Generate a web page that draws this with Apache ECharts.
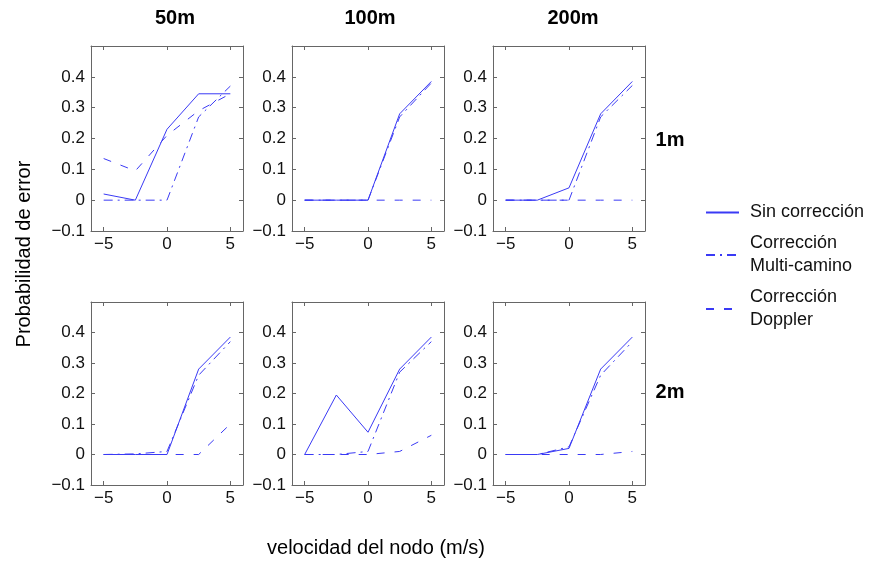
<!DOCTYPE html>
<html>
<head>
<meta charset="utf-8">
<script src="https://cdn.jsdelivr.net/npm/echarts@6/dist/echarts.min.js"></script>
<style>
  html, body { margin: 0; padding: 0; background: #fff; }
  #chart { width: 874px; height: 561px; }
</style>
</head>
<body>
<div id="chart"></div>
<script>
// Node speed (m/s) on the x axis of every panel
const velocidades = [-5, -2.5, 0, 2.5, 5];

// Column headings (distance) and row headings (antenna separation)
const distancias = ['50m', '100m', '200m'];
const separaciones = ['1m', '2m'];

// Tick labels
const xTicks = [-5, 0, 5];
const yTicks = [-0.1, 0, 0.1, 0.2, 0.3, 0.4];

// Error probability, one array per distance column (50m, 100m, 200m)
const sinCorreccion1m = [
  [0.02, 0.0, 0.23, 0.345, 0.345],
  [0.0, 0.0, 0.0, 0.28, 0.385],
  [0.0, 0.0, 0.04, 0.28, 0.385]
];
const multiCamino1m = [
  [0.0, 0.0, 0.0, 0.27, 0.37],
  [0.0, 0.0, 0.0, 0.27, 0.38],
  [0.0, 0.0, 0.0, 0.27, 0.372]
];
const doppler1m = [
  [0.135, 0.095, 0.21, 0.29, 0.345],
  [0.0, 0.0, 0.0, 0.0, 0.0],
  [0.0, 0.0, 0.0, 0.0, 0.0]
];
const sinCorreccion2m = [
  [0.0, 0.0, 0.0, 0.28, 0.385],
  [0.0, 0.195, 0.073, 0.28, 0.385],
  [0.0, 0.0, 0.02, 0.28, 0.385]
];
const multiCamino2m = [
  [0.0, 0.002, 0.01, 0.26, 0.37],
  [0.0, 0.0, 0.01, 0.27, 0.37],
  [0.0, 0.0, 0.025, 0.26, 0.37]
];
const doppler2m = [
  [0.0, 0.0, 0.0, 0.0, 0.1],
  [0.0, 0.0, 0.0, 0.01, 0.063],
  [0.0, 0.0, 0.0, 0.0, 0.01]
];

const nombres = ['Sin corrección', 'Corrección\nMulti-camino', 'Corrección\nDoppler'];
const estilos = ['solid', [9, 5, 2, 5], [8, 10]];
const azul = '#3a3af5';
const FONT = '"Liberation Sans", Arial, sans-serif';

const filas = [
  [sinCorreccion1m, multiCamino1m, doppler1m],
  [sinCorreccion2m, multiCamino2m, doppler2m]
];

const colLeft = [91, 292, 493];
const rowTop = [46, 302];
const rowHeight = [185, 183];
const panelWidth = 152;

function fmt(v) {
  if (Math.abs(v) < 1e-9) return '0';
  const s = (Math.round(v * 10) / 10).toFixed(1);
  return s.replace('-', '\u2212');
}
function fmtX(v) {
  return String(v).replace('-', '\u2212');
}

const grid = [], xAxis = [], yAxis = [], series = [];
const axisLineStyle = { lineStyle: { color: '#666', width: 1 } };

filas.forEach((grupo, r) => {
  distancias.forEach((d, c) => {
    const g = grid.length;
    grid.push({ left: colLeft[c], top: rowTop[r], width: panelWidth, height: rowHeight[r] });
    const xBase = {
      type: 'value', gridIndex: g, min: -6, max: 6,
      axisLine: Object.assign({ show: true, onZero: false }, axisLineStyle),
      axisTick: { show: true, inside: true, length: 4, customValues: xTicks, lineStyle: { color: '#666' } },
      splitLine: { show: false }
    };
    const yBase = {
      type: 'value', gridIndex: g, min: -0.1, max: 0.5, interval: 0.1,
      axisLine: Object.assign({ show: true, onZero: false }, axisLineStyle),
      axisTick: { show: true, inside: true, length: 4, customValues: yTicks, lineStyle: { color: '#666' } },
      splitLine: { show: false }
    };
    xAxis.push(Object.assign({}, xBase, {
      position: 'bottom',
      axisLabel: { show: true, customValues: xTicks, formatter: fmtX, fontSize: 17, fontFamily: FONT, color: '#111', margin: 5 }
    }));
    xAxis.push(Object.assign({}, xBase, { position: 'top', axisLabel: { show: false } }));
    yAxis.push(Object.assign({}, yBase, {
      position: 'left',
      axisLabel: { show: true, customValues: yTicks, formatter: fmt, fontSize: 17, fontFamily: FONT, color: '#111', margin: 6 }
    }));
    yAxis.push(Object.assign({}, yBase, { position: 'right', axisLabel: { show: false } }));

    grupo.forEach((serie, k) => {
      series.push({
        name: nombres[k],
        type: 'line',
        xAxisIndex: g * 2,
        yAxisIndex: g * 2,
        data: velocidades.map((x, i) => [x, serie[c][i]]),
        symbol: 'none',
        silent: true,
        animation: false,
        lineStyle: { color: azul, width: 1, type: estilos[k] },
        itemStyle: { color: azul }
      });
    });
  });
});

const textos = [];
const titlePos = [175, 370, 573];
distancias.forEach((d, c) => {
  textos.push({ type: 'text', x: titlePos[c], y: 18,
    style: { text: d, font: 'bold 20px ' + FONT, fill: '#000', align: 'center', verticalAlign: 'middle' } });
});
const rowPos = [140, 392];
separaciones.forEach((s, r) => {
  textos.push({ type: 'text', x: 670, y: rowPos[r],
    style: { text: s, font: 'bold 20px ' + FONT, fill: '#000', align: 'center', verticalAlign: 'middle' } });
});
textos.push({ type: 'text', x: 376, y: 548,
  style: { text: 'velocidad del nodo (m/s)', font: '20px ' + FONT, fill: '#000', align: 'center', verticalAlign: 'middle' } });
textos.push({ type: 'text', x: 24, y: 254, rotation: Math.PI / 2,
  style: { text: 'Probabilidad de error', font: '20px ' + FONT, fill: '#000', align: 'center', verticalAlign: 'middle' } });

const chart = echarts.init(document.getElementById('chart'), null, { renderer: 'canvas' });
chart.setOption({
  backgroundColor: '#fff',
  animation: false,
  grid, xAxis, yAxis, series,
  legend: {
    orient: 'vertical',
    left: 700,
    top: 196,
    itemWidth: 33,
    itemHeight: 10,
    itemGap: 8,
    data: nombres,
    itemStyle: { opacity: 0 },
    textStyle: { fontSize: 18, lineHeight: 23, fontFamily: FONT, color: '#111', padding: [0, 0, 0, 6] }
  },
  graphic: textos
});
</script>
</body>
</html>
